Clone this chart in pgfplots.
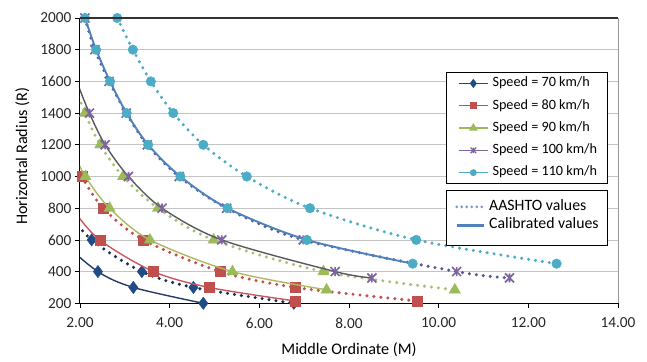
\documentclass[border=0pt]{standalone}
\usepackage{fontspec}
\setmainfont{Carlito}
\usepackage{pgfplots}
\usepackage{pgfplotstable}
\pgfplotsset{compat=1.18}

% series colours
\definecolor{gridgray}{HTML}{C4C4C4}
\definecolor{c70m}{HTML}{1F4B87}
\definecolor{c70d}{HTML}{1B2D55}
\definecolor{c70s}{HTML}{243B66}
\definecolor{c80m}{HTML}{C0504D}
\definecolor{c80d}{HTML}{C0504D}
\definecolor{c80s}{HTML}{C85860}
\definecolor{c90m}{HTML}{9BBB59}
\definecolor{c90d}{HTML}{A6C070}
\definecolor{c90s}{HTML}{B0B860}
\definecolor{c100m}{HTML}{8064A2}
\definecolor{c100d}{HTML}{565A92}
\definecolor{c100s}{HTML}{58585F}
\definecolor{c110m}{HTML}{4BACC6}
\definecolor{c110d}{HTML}{4BACC6}
\definecolor{c110s}{HTML}{4F81BD}
\definecolor{leg70}{HTML}{1F497D}
\definecolor{legblue}{HTML}{4F81BD}
\definecolor{legdot}{HTML}{7F96C8}

% Excel-style star marker: an x crossed by a vertical bar
\pgfdeclareplotmark{xstar}{%
  \pgfpathmoveto{\pgfqpoint{-\pgfplotmarksize}{-\pgfplotmarksize}}%
  \pgfpathlineto{\pgfqpoint{\pgfplotmarksize}{\pgfplotmarksize}}%
  \pgfpathmoveto{\pgfqpoint{-\pgfplotmarksize}{\pgfplotmarksize}}%
  \pgfpathlineto{\pgfqpoint{\pgfplotmarksize}{-\pgfplotmarksize}}%
  \pgfpathmoveto{\pgfqpoint{0pt}{-\pgfplotmarksize}}%
  \pgfpathlineto{\pgfqpoint{0pt}{\pgfplotmarksize}}%
  \pgfusepathqstroke
}

% AASHTO values: middle ordinate M for each radius R
\pgfplotstableread{
M R
1.36 1000
1.69 800
2.26 600
3.38 400
4.53 300
6.77 200
}\aashtoA
\pgfplotstableread{
M R
1.70 1200
2.04 1000
2.52 800
3.41 600
5.13 400
6.81 300
9.51 215
}\aashtoB
\pgfplotstableread{
M R
1.65 1800
1.86 1600
2.11 1400
2.45 1200
2.96 1000
3.74 800
4.98 600
7.43 400
10.36 285
}\aashtoC
\pgfplotstableread{
M R
2.11 2000
2.33 1800
2.65 1600
3.03 1400
3.50 1200
4.21 1000
5.27 800
6.98 600
10.40 400
11.58 360
}\aashtoD
\pgfplotstableread{
M R
2.83 2000
3.18 1800
3.58 1600
4.08 1400
4.75 1200
5.72 1000
7.13 800
9.50 600
12.63 450
}\aashtoE

% Calibrated values
\pgfplotstableread{
M R
1.19 800
1.59 600
2.40 400
3.19 300
4.75 200
}\calA
\pgfplotstableread{
M R
1.46 1000
1.83 800
2.44 600
3.64 400
4.88 300
6.79 215
}\calB
\pgfplotstableread{
M R
1.53 1400
1.78 1200
2.12 1000
2.66 800
3.56 600
5.40 400
7.50 285
}\calC
\pgfplotstableread{
M R
1.54 2000
1.71 1800
1.93 1600
2.21 1400
2.56 1200
3.08 1000
3.83 800
5.16 600
7.69 400
8.51 360
}\calD
\pgfplotstableread{
M R
2.11 2000
2.36 1800
2.67 1600
3.04 1400
3.52 1200
4.24 1000
5.29 800
7.06 600
9.42 450
}\calE

\pgfplotsset{
  aashto/.style={smooth, no marks, line width=3.4pt, line cap=round, dash pattern=on 0pt off 7pt, forget plot},
  calib/.style={smooth, no marks, line width=1.4pt, forget plot},
  pts/.style={only marks, restrict x to domain=2:14, forget plot},
  m70/.style={mark=diamond*, mark size=6.2pt, mark options={solid, fill=c70m, draw=c70m, line width=0.4pt}},
  m80/.style={mark=square*, mark size=5pt, mark options={solid, fill=c80m, draw=c80m, line width=0.4pt}},
  m90/.style={mark=triangle*, mark size=6.5pt, mark options={solid, fill=c90m, draw=c90m, line width=0.4pt}},
  m100/.style={mark=xstar, mark size=4.5pt, mark options={solid, draw=c100m, line width=1.7pt}},
  m110/.style={mark=*, mark size=4.8pt, mark options={solid, fill=c110m, draw=c110m, line width=0.4pt}},
}

\begin{document}
\begin{tikzpicture}
\path[use as bounding box] (-80pt,-57.7pt) rectangle (567pt,303.3pt);
\begin{axis}[
  at={(0pt,0pt)}, anchor=south west,
  scale only axis, width=538pt, height=285.3pt,
  xmin=2, xmax=14, ymin=200, ymax=2000,
  xtick={2,4,...,14}, ytick={200,400,...,2000},
  clip mode=individual,
  ymajorgrids, major grid style={draw=gridgray, line width=0.8pt},
  axis x line*=bottom, axis y line*=left,
  axis line style={-, black, line width=1pt},
  tick align=outside, tick pos=left, major tick length=5pt,
  tick style={black, line width=0.8pt},
  /pgf/number format/assume math mode=true,
  ticklabel style={font=\fontsize{15.3}{18}\selectfont, text=black!85},
  x tick label style={/pgf/number format/.cd, fixed, fixed zerofill, precision=2, /tikz/.cd, yshift=-6pt},
  y tick label style={/pgf/number format/.cd, fixed, 1000 sep={}},
  xlabel={Middle Ordinate (M)},
  ylabel={Horizontal Radius (R)},
  every axis x label/.style={at={(axis description cs:0.5,-0.1812)}, anchor=base, font=\fontsize{16.2}{19}\selectfont},
  every axis y label/.style={at={(axis description cs:-0.0985,0.515)}, rotate=90, anchor=base, font=\fontsize{16.2}{19}\selectfont},
  extra description/.code={
    \draw[black!80, line width=1.2pt] (rel axis cs:0,1) -- (rel axis cs:1,1);
    \draw[black!40, line width=0.8pt] (rel axis cs:1,0) -- (rel axis cs:1,1);
  },
  legend image code/.code={\draw[mark repeat=2, mark phase=2] plot coordinates {(0pt,0pt) (14.5pt,0pt) (29pt,0pt)};},
  legend cell align=left,
  legend style={draw=none, fill=none, at={(rel axis cs:0.7026,0.7932)}, anchor=north west,
    inner sep=0pt, row sep=9.8pt, font=\fontsize{14.2}{16}\selectfont,
    nodes={inner sep=0pt, text height=9.5pt, text depth=3pt},
    /tikz/every odd column/.append style={column sep=4pt}},
]
% 70 km/h
\addplot[aashto, c70d] table[x=M, y=R] {\aashtoA};
\addplot[pts, m70] table[x=M, y=R] {\aashtoA};
\addplot[calib, c70s] table[x=M, y=R] {\calA};
\addplot[pts, m70] table[x=M, y=R] {\calA};
% 80 km/h
\addplot[aashto, c80d] table[x=M, y=R] {\aashtoB};
\addplot[pts, m80] table[x=M, y=R] {\aashtoB};
\addplot[calib, c80s] table[x=M, y=R] {\calB};
\addplot[pts, m80] table[x=M, y=R] {\calB};
% 90 km/h
\addplot[aashto, c90d] table[x=M, y=R] {\aashtoC};
\addplot[pts, m90] table[x=M, y=R] {\aashtoC};
\addplot[calib, c90s] table[x=M, y=R] {\calC};
\addplot[pts, m90] table[x=M, y=R] {\calC};
% 100 km/h
\addplot[aashto, c100d] table[x=M, y=R] {\aashtoD};
\addplot[pts, m100] table[x=M, y=R] {\aashtoD};
\addplot[calib, c100s] table[x=M, y=R] {\calD};
\addplot[pts, m100] table[x=M, y=R] {\calD};
% 110 km/h
\addplot[aashto, c110d] table[x=M, y=R] {\aashtoE};
\addplot[pts, m110] table[x=M, y=R] {\aashtoE};
\addplot[calib, c110s, line width=1.9pt] table[x=M, y=R] {\calE};
\addplot[pts, m110] table[x=M, y=R] {\calE};

% legend frames
\draw[fill=white, line width=1pt] (rel axis cs:0.6803,0.8107) rectangle (rel axis cs:0.9796,0.4182);
\draw[fill=white, line width=1pt] (rel axis cs:0.6803,0.3971) rectangle (rel axis cs:0.9796,0.2043);

\addlegendimage{leg70, line width=1.3pt, mark=diamond*, mark size=3.6pt, mark options={fill=c70m, draw=c70m}}
\addlegendentry{Speed = 70 km/h}
\addlegendimage{c80m, line width=1.3pt, mark=square*, mark size=3pt, mark options={fill=c80m, draw=c80m}}
\addlegendentry{Speed = 80 km/h}
\addlegendimage{c90m, line width=1.3pt, mark=triangle*, mark size=3.8pt, mark options={fill=c90m, draw=c90m}}
\addlegendentry{Speed = 90 km/h}
\addlegendimage{c100m, line width=1.3pt, mark=xstar, mark size=2.8pt, mark options={draw=c100m, line width=1.2pt}}
\addlegendentry{Speed = 100 km/h}
\addlegendimage{c110m, line width=1.3pt, mark=*, mark size=2.8pt, mark options={fill=c110m, draw=c110m}}
\addlegendentry{Speed = 110 km/h}
\end{axis}

\begin{axis}[
  at={(0pt,0pt)}, anchor=south west,
  scale only axis, width=538pt, height=285.3pt,
  hide axis, xmin=0, xmax=1, ymin=0, ymax=1,
  legend image code/.code={\draw plot coordinates {(0pt,0pt) (27pt,0pt)};},
  legend cell align=left,
  legend style={draw=none, fill=none, at={(rel axis cs:0.697,0.3631)}, anchor=north west,
    inner sep=0pt, row sep=4.3pt, font=\fontsize{15.8}{18}\selectfont,
    nodes={inner sep=0pt, text height=10.5pt, text depth=3.5pt},
    /tikz/every odd column/.append style={column sep=4pt}},
]
\addlegendimage{legdot, line width=3pt, line cap=round, dash pattern=on 0pt off 5pt}
\addlegendentry{AASHTO values}
\addlegendimage{legblue, line width=2.6pt}
\addlegendentry{Calibrated values}
\end{axis}
\end{tikzpicture}
\end{document}
